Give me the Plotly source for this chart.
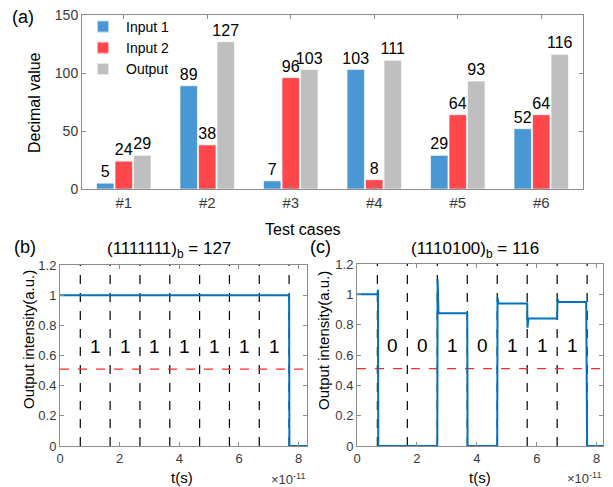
import plotly.graph_objects as go

# ---------------- data ----------------
cases = ["#1", "#2", "#3", "#4", "#5", "#6"]
input1 = [5, 89, 7, 103, 29, 52]
input2 = [24, 38, 96, 8, 64, 64]
output = [29, 127, 103, 111, 93, 116]

# time in units of 1e-11 s
bit_edges = [0.68, 1.68, 2.68, 3.68, 4.68, 5.68, 6.68, 7.68]
bit_mid = [1.18, 2.18, 3.18, 4.18, 5.18, 6.18, 7.18]
bits_b = ["1", "1", "1", "1", "1", "1", "1"]
bits_c = ["0", "0", "1", "0", "1", "1", "1"]
threshold = 0.51

t_b = [0, 7.68, 7.69, 8.28]
y_b = [1.0, 1.0, 0.0, 0.0]

t_c = [0, 0.68, 0.70, 0.71, 2.68, 2.69, 2.72, 3.68, 3.69, 4.68, 4.69, 4.72,
       5.68, 5.69, 5.72, 6.68, 6.69, 6.72, 7.65, 7.66, 7.68, 8.21]
y_c = [1.0, 1.0, 1.03, 0.0, 0.0, 1.10, 0.875, 0.875, 0.0, 0.0, 0.98, 0.94,
       0.94, 0.78, 0.84, 0.84, 0.97, 0.95, 0.95, 0.30, 0.0, 0.0]

# ---------------- style ----------------
FONT = "Liberation Sans, Arial, sans-serif"
W, H = 613, 487
OX, OY = 8, 8  # page body margin
AX_LINE = "#8c8c8c"
TICK_COL = "#3a3a3a"
C_BLUE = "#4A98D3"
C_RED = "#FF474C"
C_GRAY = "#BFBFBF"
C_LINE = "#0072BD"


def px(x):
    return (x - OX) / W


def py(y):
    return (H - (y - OY)) / H


fig = go.Figure()

for name, vals, col in [("Input 1", input1, C_BLUE), ("Input 2", input2, C_RED), ("Output", output, C_GRAY)]:
    fig.add_trace(go.Bar(
        x=cases, y=vals, name=name, marker=dict(color=col, line=dict(color="rgba(255,255,255,0.6)", width=1)),
        text=vals, textposition="outside", constraintext="none", cliponaxis=False,
        textfont=dict(size=16, color="black", family=FONT),
        xaxis="x", yaxis="y",
    ))

# panel (b)
fig.add_trace(go.Scatter(x=t_b, y=y_b, mode="lines", line=dict(color=C_LINE, width=2),
                         xaxis="x2", yaxis="y2", showlegend=False))
# panel (c)
fig.add_trace(go.Scatter(x=t_c, y=y_c, mode="lines", line=dict(color=C_LINE, width=2),
                         xaxis="x3", yaxis="y3", showlegend=False))

shapes = []
annotations = []
for xa, ya, bits in [("x2", "y2", bits_b), ("x3", "y3", bits_c)]:
    for e in bit_edges:
        shapes.append(dict(type="line", xref=xa, yref=ya + " domain", x0=e, x1=e, y0=0, y1=1,
                           line=dict(color="black", width=1.2, dash="dash"), layer="below"))
    shapes.append(dict(type="line", xref=xa + " domain", yref=ya, x0=0, x1=1, y0=threshold, y1=threshold,
                       line=dict(color="#FF2A2A", width=1.2, dash="dash"), layer="below"))
    for m, b in zip(bit_mid, bits):
        annotations.append(dict(x=m, y=0.66, xref=xa, yref=ya, text=b, showarrow=False,
                                font=dict(size=19, color="black", family=FONT)))

axis_common = dict(showline=True, linecolor=AX_LINE, linewidth=1, mirror="ticks", ticks="inside",
                   ticklen=4, tickcolor=AX_LINE, showgrid=False, zeroline=False, automargin=False,
                   ticklabeloverflow="allow",
                   tickfont=dict(size=13, color=TICK_COL, family=FONT))

fig.update_layout(
    template="none",
    width=W, height=H, margin=dict(l=0, r=0, t=0, b=0, pad=0, autoexpand=False),
    paper_bgcolor="white", plot_bgcolor="white",
    font=dict(family=FONT, color="black"),
    barmode="group", bargap=0.335, bargroupgap=0.06,
    legend=dict(x=px(80), y=py(11), xanchor="left", yanchor="top", bgcolor="rgba(0,0,0,0)",
                font=dict(size=14, color="black", family=FONT), tracegroupgap=0, itemsizing="constant",
                itemwidth=36),
    xaxis=dict(domain=[px(82), px(583)], anchor="y", type="category", range=[-0.5, 5.5],
               **{**axis_common, "tickfont": dict(size=15, color=TICK_COL, family=FONT)}),
    yaxis=dict(domain=[py(189), py(15)], anchor="x", range=[0, 150], tickvals=[0, 50, 100, 150],
               **{**axis_common, "tickfont": dict(size=14, color=TICK_COL, family=FONT)}),
    xaxis2=dict(domain=[px(60), px(307)], anchor="y2", range=[0, 8.28], tickvals=[0, 2, 4, 6, 8], **axis_common),
    yaxis2=dict(domain=[py(446), py(265)], anchor="x2", range=[0, 1.2], dtick=0.2, **axis_common),
    xaxis3=dict(domain=[px(357), px(603)], anchor="y3", range=[0, 8.21], tickvals=[0, 2, 4, 6, 8], **axis_common),
    yaxis3=dict(domain=[py(446), py(264)], anchor="x3", range=[0, 1.2], dtick=0.2, **axis_common),
    shapes=shapes,
)

def ann(x, y, text, size, angle=0, color="black", xanchor="center"):
    annotations.append(dict(x=px(x), y=py(y), xref="paper", yref="paper", text=text, showarrow=False,
                            textangle=angle, xanchor=xanchor, yanchor="middle",
                            font=dict(size=size, color=color, family=FONT)))

ann(23, 17, "(a)", 18)
ann(25, 247, "(b)", 18)
ann(320, 247, "(c)", 18)
ann(35, 103, "Decimal value", 16, angle=-90)
ann(303, 229, "Test cases", 16)
ann(169, 250, "(1111111)<sub>b</sub> = 127", 17)
ann(475, 250, "(1110100)<sub>b</sub> = 116", 17)
ann(28, 340, "Output intensity(a.u.)", 15, angle=-90)
ann(323, 341, "Output intensity(a.u.)", 15, angle=-90)
ann(182, 477, "t(s)", 15)
ann(480, 477, "t(s)", 15)
ann(288, 479, "×10<sup>-11</sup>", 13, color=TICK_COL)
ann(584, 478, "×10<sup>-11</sup>", 13, color=TICK_COL)

fig.update_layout(annotations=annotations)
fig.write_html("out.html")
